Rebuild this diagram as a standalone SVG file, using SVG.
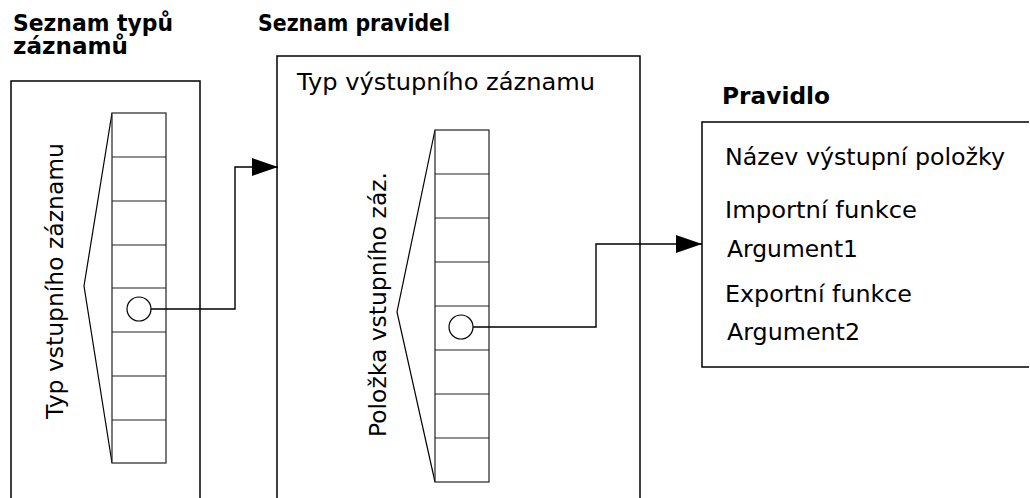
<svg xmlns="http://www.w3.org/2000/svg" width="1030" height="498" viewBox="0 0 1030 498">
<defs>
<style>
.box{fill:none;stroke:#000;stroke-width:1.5}
.col{fill:#fff;stroke:#222;stroke-width:1.2}
.cell{stroke:#222;stroke-width:1.2}
.chev{fill:none;stroke:#000;stroke-width:1.2}
.t{font-family:"DejaVu Sans","Verdana",sans-serif;font-size:23px;fill:#000}
.b{font-family:"DejaVu Sans","Verdana",sans-serif;font-size:23px;font-weight:bold;fill:#000}
.conn{fill:none;stroke:#000;stroke-width:1.4}
</style>
<marker id="arr" viewBox="0 0 26 18" refX="26" refY="9" markerWidth="26" markerHeight="18" markerUnits="userSpaceOnUse" orient="auto">
<path d="M0,0 L26,9 L0,18 Z" fill="#000"/>
</marker>
</defs>
<rect width="1030" height="498" fill="#fff"/>

<g id="seznam-typu">
<text class="b" x="13" y="31" textLength="160" lengthAdjust="spacingAndGlyphs">Seznam typů</text>
<text class="b" x="13" y="54" textLength="115" lengthAdjust="spacingAndGlyphs">záznamů</text>
<path class="box" d="M11,505 V81 H200 V505"/>
<polyline class="chev" points="112,113 84,286 112,463"/>
<rect class="col" x="112" y="113" width="54" height="350"/>
<g class="cell">
<line x1="112" y1="157" x2="166" y2="157"/>
<line x1="112" y1="201" x2="166" y2="201"/>
<line x1="112" y1="245" x2="166" y2="245"/>
<line x1="112" y1="288" x2="166" y2="288"/>
<line x1="112" y1="332" x2="166" y2="332"/>
<line x1="112" y1="376" x2="166" y2="376"/>
<line x1="112" y1="420" x2="166" y2="420"/>
</g>
<circle cx="139" cy="309" r="12" fill="#fff" stroke="#000" stroke-width="1.2"/>
<text class="t" transform="translate(63,419) rotate(-90)" textLength="276" lengthAdjust="spacingAndGlyphs">Typ vstupního záznamu</text>
</g>

<g id="seznam-pravidel">
<text class="b" x="258" y="31" textLength="192" lengthAdjust="spacingAndGlyphs">Seznam pravidel</text>
<path class="box" d="M277,505 V56 H640 V505"/>
<text class="t" x="297" y="90" textLength="298" lengthAdjust="spacingAndGlyphs">Typ výstupního záznamu</text>
<polyline class="chev" points="435,130 397,312 435,482"/>
<rect class="col" x="435" y="130" width="54" height="352"/>
<g class="cell">
<line x1="435" y1="174" x2="489" y2="174"/>
<line x1="435" y1="218" x2="489" y2="218"/>
<line x1="435" y1="262" x2="489" y2="262"/>
<line x1="435" y1="306" x2="489" y2="306"/>
<line x1="435" y1="350" x2="489" y2="350"/>
<line x1="435" y1="394" x2="489" y2="394"/>
<line x1="435" y1="438" x2="489" y2="438"/>
</g>
<circle cx="461" cy="327" r="12" fill="#fff" stroke="#000" stroke-width="1.2"/>
<text class="t" transform="translate(386,437) rotate(-90)" textLength="265" lengthAdjust="spacingAndGlyphs">Položka vstupního záz.</text>
</g>

<g id="pravidlo">
<text class="b" x="722" y="104" textLength="108" lengthAdjust="spacingAndGlyphs">Pravidlo</text>
<path class="box" d="M1029,122 H702 V367 H1029"/>
<text class="t" x="725" y="165" textLength="280" lengthAdjust="spacingAndGlyphs">Název výstupní položky</text>
<text class="t" x="725" y="218" textLength="192" lengthAdjust="spacingAndGlyphs">Importní funkce</text>
<text class="t" x="727" y="257" textLength="131" lengthAdjust="spacingAndGlyphs">Argument1</text>
<text class="t" x="725" y="302" textLength="187" lengthAdjust="spacingAndGlyphs">Exportní funkce</text>
<text class="t" x="727" y="340" textLength="133" lengthAdjust="spacingAndGlyphs">Argument2</text>
</g>

<g id="connectors">
<polyline class="conn" points="151,309 235,309 235,167 278,167" marker-end="url(#arr)"/>
<polyline class="conn" points="473,327 596,327 596,244 702,244" marker-end="url(#arr)"/>
</g>
</svg>
